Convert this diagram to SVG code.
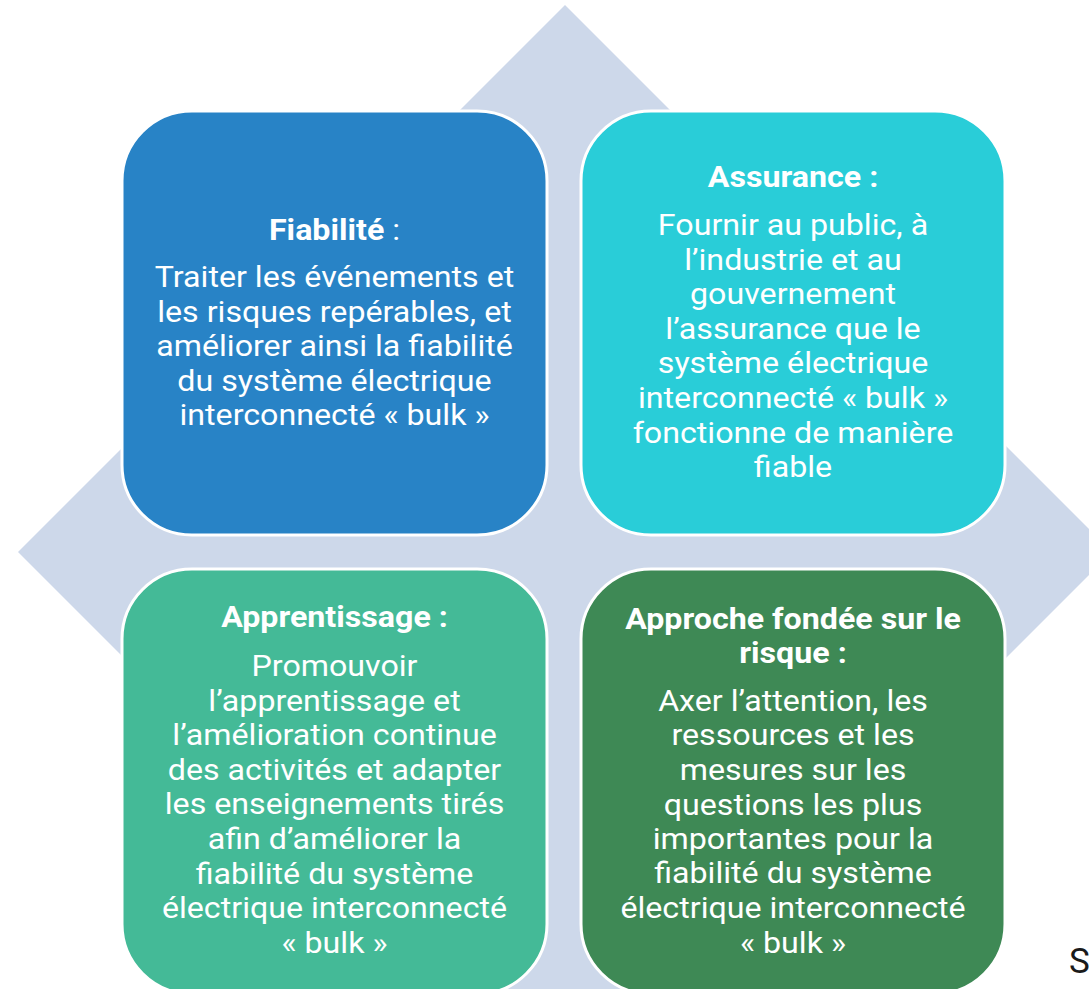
<svg xmlns="http://www.w3.org/2000/svg" width="1089" height="989" viewBox="0 0 1089 989">
<style>
.box{stroke:#ffffff;stroke-width:3}
text{font-family:Roboto,"Liberation Sans",sans-serif;font-size:29px;fill:#ffffff;text-anchor:middle}
.t{font-weight:700}
</style>
<rect width="1089" height="989" fill="#ffffff"/>
<polygon id="diamond" points="565,5 1112,552 565,1099 18,552" fill="#CDD8EA"/>
<g id="connectors"></g>
<g id="fiabilite">
<rect class="box" x="122" y="111" width="425" height="424" rx="70" fill="#2883C6"/>
<g transform="translate(334.5,0) scale(1.11,1)">
<text x="0" y="240"><tspan class="t">Fiabilité</tspan> :</text>
<text x="0" y="287">Traiter les événements et</text>
<text x="0" y="322">les risques repérables, et</text>
<text x="0" y="356">améliorer ainsi la fiabilité</text>
<text x="0" y="391">du système électrique</text>
<text x="0" y="425">interconnecté « bulk »</text>
</g>
</g>
<g id="assurance">
<rect class="box" x="581" y="111" width="424" height="424" rx="70" fill="#29CDD8"/>
<g transform="translate(793,0) scale(1.11,1)">
<text class="t" x="0" y="187">Assurance :</text>
<text x="0" y="235">Fournir au public, à</text>
<text x="0" y="270">l’industrie et au</text>
<text x="0" y="304">gouvernement</text>
<text x="0" y="339">l’assurance que le</text>
<text x="0" y="373">système électrique</text>
<text x="0" y="408">interconnecté « bulk »</text>
<text x="0" y="443">fonctionne de manière</text>
<text x="0" y="477">fiable</text>
</g>
</g>
<g id="apprentissage">
<rect class="box" x="122" y="569" width="425" height="425" rx="70" fill="#44BA97"/>
<g transform="translate(334.5,0) scale(1.11,1)">
<text class="t" x="0" y="627">Apprentissage :</text>
<text x="0" y="676">Promouvoir</text>
<text x="0" y="711">l’apprentissage et</text>
<text x="0" y="745">l’amélioration continue</text>
<text x="0" y="780">des activités et adapter</text>
<text x="0" y="814">les enseignements tirés</text>
<text x="0" y="849">afin d’améliorer la</text>
<text x="0" y="884">fiabilité du système</text>
<text x="0" y="918">électrique interconnecté</text>
<text x="0" y="953">« bulk »</text>
</g>
</g>
<g id="approche">
<rect class="box" x="581" y="569" width="424" height="425" rx="70" fill="#3E8955"/>
<g transform="translate(793,0) scale(1.11,1)">
<text class="t" x="0" y="629">Approche fondée sur le</text>
<text class="t" x="0" y="663">risque :</text>
<text x="0" y="711">Axer l’attention, les</text>
<text x="0" y="745">ressources et les</text>
<text x="0" y="780">mesures sur les</text>
<text x="0" y="815">questions les plus</text>
<text x="0" y="849">importantes pour la</text>
<text x="0" y="883">fiabilité du système</text>
<text x="0" y="918">électrique interconnecté</text>
<text x="0" y="953">« bulk »</text>
</g>
</g>
<text x="1069" y="973" style="fill:#1a1a1a;font-size:35px;text-anchor:start">S</text>
</svg>
